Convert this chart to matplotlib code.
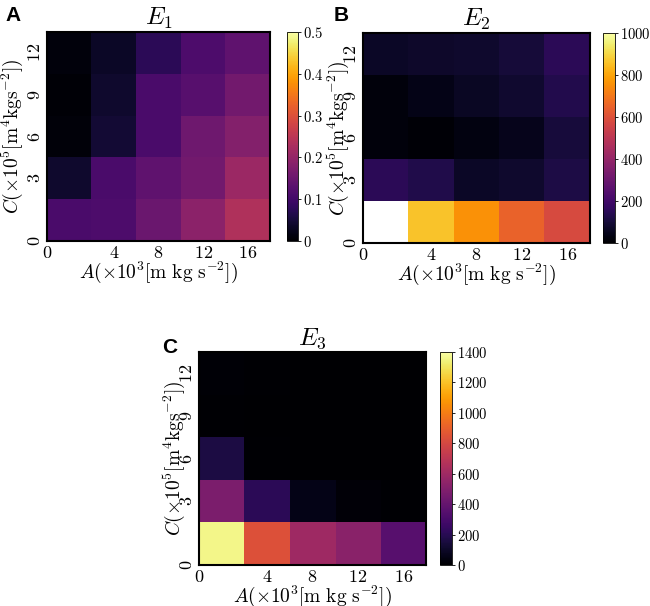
import numpy as np
import matplotlib
matplotlib.use("Agg")
import matplotlib.pyplot as plt

plt.rcParams['mathtext.fontset'] = 'cm'
plt.rcParams['font.family'] = 'DejaVu Serif'

# rows go from C=0 (bottom) up to C=12 (top), columns A=0..16
a_labels = ['0', '4', '8', '12', '16']
c_labels = ['0', '3', '6', '9', '12']

e1 = [[0.11, 0.115, 0.15, 0.19, 0.235],
      [0.04, 0.11, 0.135, 0.16, 0.21],
      [0.008, 0.045, 0.11, 0.155, 0.18],
      [0.005, 0.04, 0.11, 0.125, 0.16],
      [0.01, 0.035, 0.075, 0.115, 0.135]]

e2 = [[1100, 860, 760, 650, 580],
      [150, 125, 70, 80, 120],
      [20, 10, 30, 50, 105],
      [20, 40, 65, 85, 130],
      [70, 75, 80, 100, 150]]

e3 = [[1360, 840, 600, 530, 350],
      [480, 210, 60, 20, 10],
      [160, 8, 5, 3, 2],
      [10, 5, 3, 2, 1],
      [12, 6, 4, 2, 1]]

vmax = [0.5, 1000, 1400]
cb_ticks = [[0, 0.1, 0.2, 0.3, 0.4, 0.5],
            [0, 200, 400, 600, 800, 1000],
            [0, 200, 400, 600, 800, 1000, 1200, 1400]]
cb_labels = [['0', '0.1', '0.2', '0.3', '0.4', '0.5'],
             ['0', '200', '400', '600', '800', '1000'],
             ['0', '200', '400', '600', '800', '1000', '1200', '1400']]
titles = [r'$E_1$', r'$E_2$', r'$E_3$']
letters = ['A', 'B', 'C']

W, H = 650, 606
def px(l, t, r, b):
    return [l / W, 1 - b / H, (r - l) / W, (b - t) / H]

ax_boxes = [px(47, 32, 270, 241), px(363, 33, 590, 243), px(199, 352, 426, 565)]
cb_boxes = [px(287, 32, 298, 241), px(603, 33, 615, 243), px(440, 352, 452, 565)]
letter_pos = [(5, 6), (334, 6), (162, 338)]
ylab_x = [-0.10, -0.055, -0.055]

cmap = plt.get_cmap('inferno').copy()
cmap.set_over('white')

fig = plt.figure(figsize=(6.5, 6.06), dpi=100)
tick_pos = [0, 1.5, 2.5, 3.5, 4.5]

for i, data in enumerate([e1, e2, e3]):
    ax = fig.add_axes(ax_boxes[i])
    im = ax.imshow(np.array(data), cmap=cmap, vmin=0, vmax=vmax[i],
                   origin='lower', extent=(0, 5, 0, 5), aspect='auto',
                   interpolation='nearest')
    ax.set_xticks(tick_pos)
    ax.set_xticklabels(['$%s$' % s for s in a_labels], fontsize=13)
    ax.set_yticks(tick_pos)
    ax.set_yticklabels(['$%s$' % s for s in c_labels], fontsize=13,
                       rotation=90, va='center')
    ax.tick_params(length=0, pad=2)
    for sp in ax.spines.values():
        sp.set_linewidth(1.5)
    ax.set_xlabel(r'$A(\times10^3[\mathrm{m\ kg\ s^{-2}}])$', fontsize=14, labelpad=-2)
    ax.set_ylabel(r'$C(\times10^5[\mathrm{m^4kgs^{-2}}])$', fontsize=14)
    ax.yaxis.set_label_coords(ylab_x[i], 0.5)
    ax.set_title(titles[i], fontsize=18, pad=5)

    cax = fig.add_axes(cb_boxes[i])
    cb = fig.colorbar(im, cax=cax)
    cb.set_ticks(cb_ticks[i])
    cb.set_ticklabels(['$%s$' % s for s in cb_labels[i]])
    cb.ax.tick_params(labelsize=10.5, length=2, width=0.6, pad=1.5)
    cb.outline.set_linewidth(0.6)

    lx, ly = letter_pos[i]
    fig.text(lx / W, 1 - ly / H, letters[i], fontsize=15, fontweight='bold',
             family='Liberation Sans', ha='left', va='top')

fig.savefig('out.png', dpi=100)
